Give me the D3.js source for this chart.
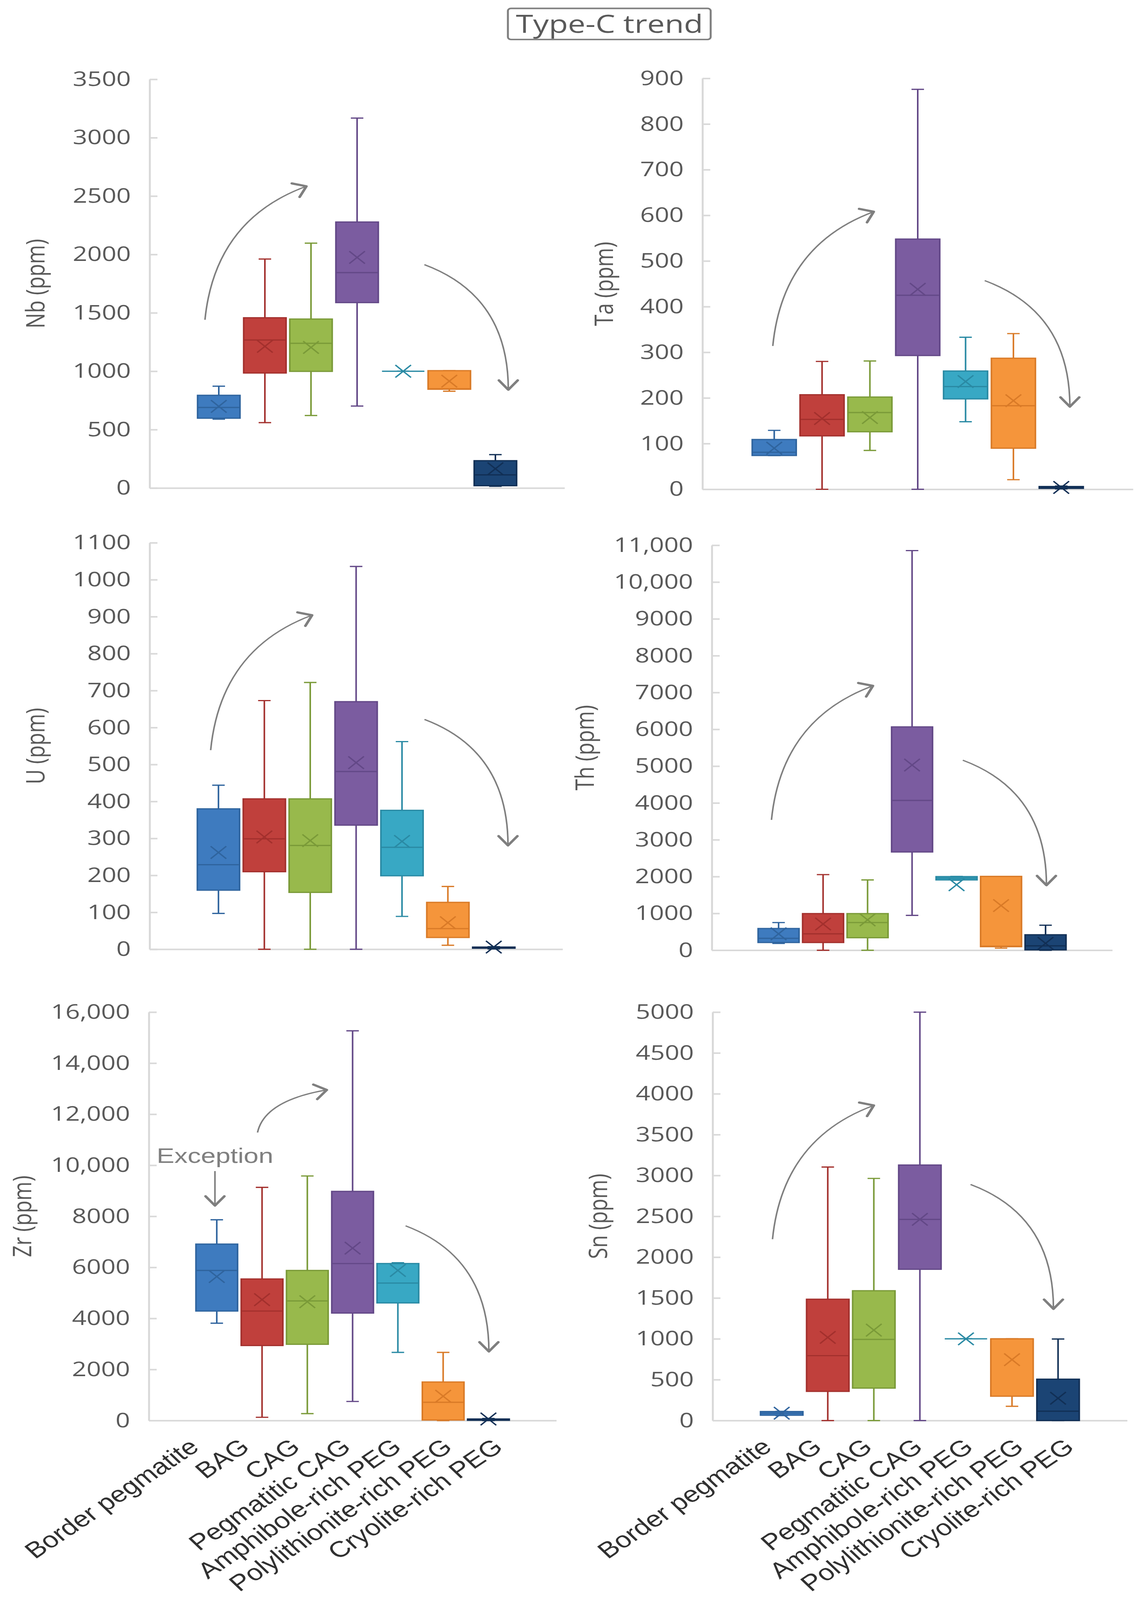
<!DOCTYPE html>
<html>
<head>
<meta charset="utf-8">
<script src="https://cdn.jsdelivr.net/npm/d3@7/dist/d3.min.js"></script>
<style>
  html, body { margin: 0; padding: 0; background: #fff; overflow: hidden; }
  svg { display: block; }
</style>
</head>
<body>
<div id="chart"></div>
<script>
// drawing space of the original figure; the svg is fitted to the window
var W = 2923, H = 5144;

var categories = ["Border pegmatite", "BAG", "CAG", "Pegmatitic CAG",
  "Amphibole-rich PEG", "Polylithionite-rich PEG", "Cryolite-rich PEG"];

// one row per category: [min, q1, median, q3, max, mean]
var nbStats = [
  [590, 598, 690, 794, 872, 699],
  [560, 985, 1268, 1458, 1961, 1213],
  [621, 999, 1239, 1447, 2097, 1204],
  [702, 1588, 1845, 2278, 3168, 1975],
  [1000, 1000, 1000, 1000, 1000, 1000],
  [829, 846, 850, 1005, 1005, 915],
  [15, 20, 113, 234, 286, 165]
];
var taStats = [
  [74, 74, 81, 109, 129, 90],
  [0, 117, 153, 207, 280, 155],
  [85, 126, 168, 202, 281, 157],
  [0, 293, 425, 548, 876, 438],
  [148, 198, 225, 259, 333, 236],
  [21, 90, 183, 287, 341, 194],
  [1, 2, 3, 6, 7, 4]
];
var uStats = [
  [97, 160, 229, 380, 444, 262],
  [0, 210, 299, 407, 673, 304],
  [0, 154, 281, 407, 722, 294],
  [0, 336, 481, 670, 1036, 505],
  [89, 199, 276, 376, 562, 292],
  [11, 32, 56, 127, 170, 72],
  [1, 3, 4, 6, 7, 6]
];
var thStats = [
  [186, 210, 324, 590, 752, 445],
  [0, 210, 445, 995, 2054, 712],
  [0, 340, 752, 995, 1909, 825],
  [946, 2669, 4068, 6066, 10855, 5031],
  [1900, 1910, 1957, 2000, 2005, 1780],
  [57, 97, 110, 2006, 2006, 1213],
  [0, 10, 120, 420, 680, 186]
];
var zrStats = [
  [3813, 4290, 5879, 6912, 7865, 5641],
  [127, 2939, 4290, 5545, 9136, 4735],
  [270, 2987, 4687, 5879, 9581, 4655],
  [747, 4211, 6149, 8977, 15269, 6753],
  [2669, 4608, 5386, 6150, 6181, 5879],
  [0, 20, 715, 1509, 2669, 953],
  [0, 10, 30, 60, 80, 60]
];
var snStats = [
  [60, 65, 90, 110, 112, 90],
  [0, 357, 794, 1485, 3103, 1018],
  [0, 397, 993, 1589, 2964, 1107],
  [0, 1852, 2463, 3128, 5000, 2463],
  [1000, 1000, 1000, 1000, 1000, 1000],
  [174, 298, 1000, 1000, 1000, 745],
  [0, 0, 114, 506, 998, 273]
];

var nbTicks = [0, 500, 1000, 1500, 2000, 2500, 3000, 3500];
var taTicks = [0, 100, 200, 300, 400, 500, 600, 700, 800, 900];
var uTicks = [0, 100, 200, 300, 400, 500, 600, 700, 800, 900, 1000, 1100];
var thTicks = [0, 1000, 2000, 3000, 4000, 5000, 6000, 7000, 8000, 9000, 10000, 11000];
var zrTicks = [0, 2000, 4000, 6000, 8000, 10000, 12000, 14000, 16000];
var snTicks = [0, 500, 1000, 1500, 2000, 2500, 3000, 3500, 4000, 4500, 5000];

// trend arrows in (category index, value) units: [u0, v0, u1, v1]
var nbArrows = [[-0.3, 1441, 1.9, 2584], [4.46, 1913, 6.28, 842]];
var taArrows = [[-0.03, 314, 2.08, 608], [4.4, 457, 6.18, 181]];
var uArrows = [[-0.17, 539, 2.04, 904], [4.49, 622, 6.31, 281]];
var thArrows = [[-0.16, 3540, 2.12, 7181], [4.14, 5162, 6.02, 1766]];
var zrArrows = [[0.9, 11284, 2.43, 12953], [4.17, 7628, 6.01, 2705]];
var snArrows = [[-0.2, 2220, 2.0, 3858], [4.1, 2890, 5.9, 1367]];

var fills = ["#3e7bbf", "#c0403c", "#98b94c", "#7b5ca0", "#38a8c4", "#f5953b", "#1b4474"];
var strokes = ["#2f649e", "#a3302d", "#7a9a38", "#634887", "#2a8aa4", "#d97a27", "#112f55"];

var panels = [
  {label: "Nb (ppm)", stats: nbStats, ticks: nbTicks, arrows: nbArrows, max: 3500,
   left: 383, right: 1445, top: 255, bottom: 1569, labelX: 91},
  {label: "Ta (ppm)", stats: taStats, ticks: taTicks, arrows: taArrows, max: 900,
   left: 1798, right: 2900, top: 252, bottom: 1573, labelX: 1546},
  {label: "U (ppm)", stats: uStats, ticks: uTicks, arrows: uArrows, max: 1100,
   left: 383, right: 1440, top: 1745, bottom: 3052, labelX: 91},
  {label: "Th (ppm)", stats: thStats, ticks: thTicks, arrows: thArrows, max: 11000,
   left: 1822, right: 2847, top: 1753, bottom: 3055, labelX: 1497},
  {label: "Zr (ppm)", stats: zrStats, ticks: zrTicks, arrows: zrArrows, max: 16000,
   left: 381, right: 1424, top: 3254, bottom: 4567, labelX: 57,
   names: [-42, 41], exception: true},
  {label: "Sn (ppm)", stats: snStats, ticks: snTicks, arrows: snArrows, max: 5000,
   left: 1824, right: 2885, top: 3254, bottom: 4567, labelX: 1531,
   names: [-22, 45]}
];

var grey = "#7f7f7f", axisGrey = "#d9d9d9", textGrey = "#595959";
var sans = "Open Sans, DejaVu Sans, sans-serif";
var arial = "Liberation Sans, Arial, sans-serif";

var svg = d3.select("#chart").append("svg")
  .attr("width", window.innerWidth).attr("height", window.innerHeight)
  .attr("viewBox", "0 0 " + W + " " + H)
  .attr("preserveAspectRatio", "none")
  .attr("font-family", sans);

svg.append("rect").attr("width", W).attr("height", H).attr("fill", "#fff");

svg.append("defs").append("marker")
  .attr("id", "chev")
  .attr("markerUnits", "userSpaceOnUse")
  .attr("viewBox", "-40 -30 50 60")
  .attr("markerWidth", 50).attr("markerHeight", 60)
  .attr("refX", 0).attr("refY", 0)
  .attr("orient", "auto")
  .append("path")
  .attr("d", "M-30,-24L0,0L-30,24")
  .attr("fill", "none").attr("stroke", grey)
  .attr("stroke-width", 7).attr("stroke-linecap", "round").attr("stroke-linejoin", "round");

// title box
svg.append("rect")
  .attr("x", 1300).attr("y", 27).attr("width", 519).attr("height", 100).attr("rx", 8)
  .attr("fill", "none").attr("stroke", grey).attr("stroke-width", 5);
svg.append("text")
  .attr("x", 1560).attr("y", 77).attr("dy", "0.35em")
  .attr("text-anchor", "middle").attr("font-size", 80).attr("fill", textGrey)
  .text("Type-C trend");

function fmt(v) { return v >= 10000 ? d3.format(",")(v) : String(v); }

panels.forEach(function(p) {
  var g = svg.append("g");
  var x = d3.scaleBand().domain(categories).range([p.left, p.right])
    .paddingInner(0).paddingOuter(1);
  var y = d3.scaleLinear().domain([0, p.max]).range([p.bottom, p.top]);
  var step = x.step(), bw = step * 0.92, cap = 32;
  function xu(u) { return x(categories[0]) + x.bandwidth() / 2 + u * step; }

  // y axis
  var ax = g.append("g").attr("transform", "translate(" + p.left + ",0)")
    .call(d3.axisLeft(y).tickValues(p.ticks).tickFormat(fmt)
      .tickSizeInner(-20).tickSizeOuter(0).tickPadding(48));
  ax.attr("font-family", sans).attr("font-size", 65);
  ax.select(".domain").attr("stroke", axisGrey).attr("stroke-width", 5);
  ax.selectAll(".tick line").attr("stroke", axisGrey).attr("stroke-width", 5);
  ax.selectAll(".tick text").attr("fill", textGrey);

  // x axis line
  var bx = g.append("g").attr("transform", "translate(0," + p.bottom + ")")
    .call(d3.axisBottom(x).tickValues([]).tickSizeOuter(0));
  bx.select(".domain").attr("stroke", axisGrey).attr("stroke-width", 5);

  g.append("text")
    .attr("transform", "translate(" + p.labelX + "," + ((p.top + p.bottom) / 2) + ") rotate(-90)")
    .attr("dy", "0.35em").attr("text-anchor", "middle")
    .attr("font-size", 66).attr("fill", textGrey)
    .text(p.label);

  var boxes = g.selectAll(".box").data(p.stats).enter().append("g").attr("class", "box");
  boxes.each(function(d, i) {
    var b = d3.select(this);
    var cx = x(categories[i]) + x.bandwidth() / 2;
    var col = strokes[i];
    // whiskers
    b.append("line").attr("x1", cx).attr("x2", cx).attr("y1", y(d[0])).attr("y2", y(d[1]))
      .attr("stroke", col).attr("stroke-width", 4);
    b.append("line").attr("x1", cx).attr("x2", cx).attr("y1", y(d[3])).attr("y2", y(d[4]))
      .attr("stroke", col).attr("stroke-width", 4);
    [d[0], d[4]].forEach(function(v) {
      b.append("line").attr("x1", cx - cap / 2).attr("x2", cx + cap / 2)
        .attr("y1", y(v)).attr("y2", y(v))
        .attr("stroke", col).attr("stroke-width", 4);
    });
    // box
    b.append("rect").attr("x", cx - bw / 2).attr("width", bw)
      .attr("y", y(d[3])).attr("height", Math.max(0, y(d[1]) - y(d[3])))
      .attr("fill", fills[i]).attr("stroke", col).attr("stroke-width", 4);
    // median
    b.append("line").attr("x1", cx - bw / 2).attr("x2", cx + bw / 2)
      .attr("y1", y(d[2])).attr("y2", y(d[2]))
      .attr("stroke", col).attr("stroke-width", 4);
    // mean marker
    var m = y(d[5]), s = 20;
    b.append("path")
      .attr("d", "M" + (cx - s) + "," + (m - s) + "L" + (cx + s) + "," + (m + s) +
                 "M" + (cx - s) + "," + (m + s) + "L" + (cx + s) + "," + (m - s))
      .attr("stroke", col).attr("stroke-width", 4).attr("fill", "none");
  });

  // trend arrows
  p.arrows.forEach(function(a, k) {
    var x0 = xu(a[0]), y0 = y(a[1]), x1 = xu(a[2]), y1 = y(a[3]);
    var path = d3.path();
    path.moveTo(x0, y0);
    if (k === 0) path.quadraticCurveTo(x0 + 0.1 * (x1 - x0), y1 + 0.25 * (y0 - y1), x1, y1);
    else path.quadraticCurveTo(x1, y0 + 0.25 * (y1 - y0), x1, y1);
    g.append("path").attr("d", path.toString())
      .attr("fill", "none").attr("stroke", grey).attr("stroke-width", 4)
      .attr("marker-end", "url(#chev)");
  });

  if (p.exception) {
    g.append("text")
      .attr("x", xu(-0.04)).attr("y", y(10382)).attr("dy", "0.35em")
      .attr("text-anchor", "middle").attr("font-size", 68).attr("fill", grey)
      .attr("font-family", arial)
      .text("Exception");
    g.append("path")
      .attr("d", "M" + xu(-0.04) + "," + y(9773) + "L" + xu(-0.04) + "," + y(8420))
      .attr("stroke", grey).attr("stroke-width", 4).attr("marker-end", "url(#chev)");
  }

  if (p.names) {
    var lx = d3.scalePoint().domain(categories)
      .range([xu(0) + p.names[0], xu(6) + p.names[1]]);
    g.selectAll(".name").data(categories).enter().append("text")
      .attr("class", "name")
      .attr("transform", function(c) { return "translate(" + lx(c) + "," + (p.bottom + 92) + ") rotate(-40)"; })
      .attr("text-anchor", "end")
      .attr("font-size", 72).attr("fill", "#303030")
      .attr("font-family", arial)
      .text(function(c) { return c; });
  }
});
</script>
</body>
</html>
